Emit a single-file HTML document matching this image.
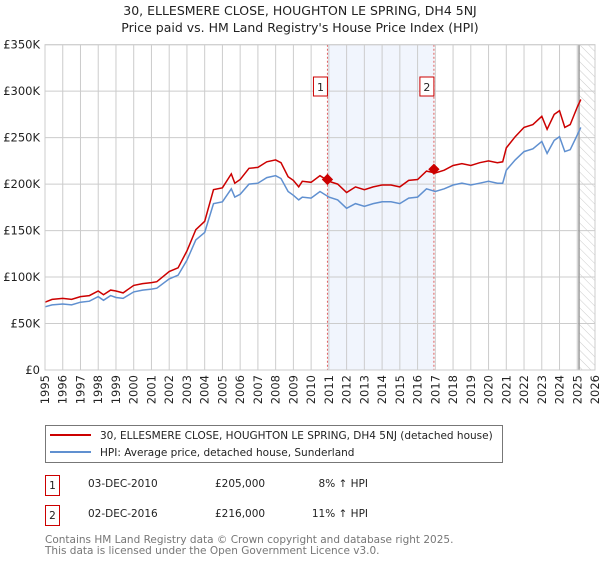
<!DOCTYPE html>
<html><head><meta charset="utf-8"><style>
body{margin:0;background:#fff;font-family:"DejaVu Sans","Liberation Sans",sans-serif;}
svg text{font-family:"DejaVu Sans","Liberation Sans",sans-serif;}
</style></head><body>
<svg id="chart" width="600" height="560" xmlns="http://www.w3.org/2000/svg">
<defs><pattern id="hatch" width="6" height="6" patternUnits="userSpaceOnUse" patternTransform="rotate(-45)"><line x1="0" y1="0" x2="0" y2="6" stroke="#ccc" stroke-width="1"/></pattern></defs>
<text x="300" y="15" text-anchor="middle" font-size="12.5" fill="#222">30, ELLESMERE CLOSE, HOUGHTON LE SPRING, DH4 5NJ</text>
<text x="300" y="32" text-anchor="middle" font-size="12.5" fill="#222">Price paid vs. HM Land Registry's House Price Index (HPI)</text>
<g id="plot"></g>
<g>
<rect x="45.5" y="425.5" width="457" height="37" fill="#fff" stroke="#777"/>
<line x1="50" y1="435" x2="91" y2="435" stroke="#cc0000" stroke-width="2"/>
<text x="100" y="439" font-size="10.5" fill="#222">30, ELLESMERE CLOSE, HOUGHTON LE SPRING, DH4 5NJ (detached house)</text>
<line x1="50" y1="452" x2="91" y2="452" stroke="#6090d0" stroke-width="2"/>
<text x="100" y="456" font-size="10.5" fill="#222">HPI: Average price, detached house, Sunderland</text>
</g>
<g font-size="10.5" fill="#222">
<rect x="45.5" y="475.5" width="14" height="20" fill="#fff" stroke="#cc0000"/><text x="52.5" y="489" text-anchor="middle">1</text>
<text x="88" y="487">03-DEC-2010</text><text x="215" y="487">£205,000</text><text x="368" y="487" text-anchor="end">8% ↑ HPI</text>
<rect x="45.5" y="505.5" width="14" height="20" fill="#fff" stroke="#cc0000"/><text x="52.5" y="519" text-anchor="middle">2</text>
<text x="88" y="517">02-DEC-2016</text><text x="215" y="517">£216,000</text><text x="368" y="517" text-anchor="end">11% ↑ HPI</text>
</g>
<text x="45" y="543" font-size="10.5" fill="#777">Contains HM Land Registry data © Crown copyright and database right 2025.</text>
<text x="45" y="554" font-size="10.5" fill="#777">This data is licensed under the Open Government Licence v3.0.</text>
</svg>
<script>
const years=[1995,1995.4,1996,1996.5,1997,1997.5,1998,1998.3,1998.7,1999,1999.4,2000,2000.5,2001,2001.3,2002,2002.5,2003,2003.5,2004,2004.5,2005,2005.5,2005.7,2006,2006.5,2007,2007.5,2008,2008.3,2008.7,2009,2009.3,2009.5,2010,2010.5,2011,2011.5,2012,2012.5,2013,2013.5,2014,2014.5,2015,2015.5,2016,2016.5,2017,2017.5,2018,2018.5,2019,2019.5,2020,2020.5,2020.8,2021,2021.5,2022,2022.5,2023,2023.3,2023.7,2024,2024.3,2024.6,2025,2025.2];
const hpiValues=[68,70,71,70,73,74,79,75,80,78,77,84,86,87,88,98,102,118,140,148,179,181,195,186,189,200,201,207,209,206,192,188,183,186,185,192,186,183,174,179,176,179,181,181,179,185,186,195,192,195,199,201,199,201,203,201,201,215,226,235,238,246,233,247,251,235,237,253,261];
const priceValues=[73,76,77,76,79,80,85,81,86,85,83,91,93,94,95,106,110,128,151,160,194,196,211,201,205,217,218,224,226,223,208,204,197,203,202,209,203,200,191,197,194,197,199,199,197,204,205,214,212,215,220,222,220,223,225,223,224,239,251,261,264,273,259,275,279,261,264,283,291];
const saleYears=[2010.92,2016.92];
const saleValues=[205,216];
const yTicks=[0,50,100,150,200,250,300,350];
const yTickLabels=["£0","£50K","£100K","£150K","£200K","£250K","£300K","£350K"];
const xTicks=[1995,1996,1997,1998,1999,2000,2001,2002,2003,2004,2005,2006,2007,2008,2009,2010,2011,2012,2013,2014,2015,2016,2017,2018,2019,2020,2021,2022,2023,2024,2025,2026];
const X0=45,X1=595,Y0=370,Y1=44.7;
const xs=y=>X0+(y-1995)/(2026-1995)*(X1-X0);
const ys=v=>Y0-v/350*(Y0-Y1);
const NS="http://www.w3.org/2000/svg";
const g=document.getElementById('plot');
function mk(t,a){const e=document.createElementNS(NS,t);for(const k in a)e.setAttribute(k,a[k]);g.appendChild(e);return e;}
let r=mk('rect',{x:xs(saleYears[0]),y:Y1,width:xs(saleYears[1])-xs(saleYears[0]),height:Y0-Y1,fill:'#eef3fc',opacity:0.8});


let h=mk('rect',{x:xs(2025.1),y:Y1,width:X1-xs(2025.1),height:Y0-Y1,fill:'url(#hatch)'});


xTicks.forEach((t,i)=>{
 const l=mk('line',{x1:xs(t),x2:xs(t),y1:Y1,y2:Y0,stroke:'#ccc','stroke-width':1});
 
 
 const tx=mk('text',{x:0,y:0,'font-size':11.5,fill:'#222','text-anchor':'end',transform:`translate(${xs(t)+4},${Y0+5}) rotate(-90)`});
 tx.textContent=t;
 
 
});
yTicks.forEach((t,i)=>{
 const l=mk('line',{x1:X0,x2:X1,y1:ys(t),y2:ys(t),stroke:'#ccc','stroke-width':1});
 
 
 const tx=mk('text',{x:X0-5,y:ys(t)+4,'font-size':11.5,fill:'#222','text-anchor':'end'});
 tx.textContent=yTickLabels[i];
 
 
});
let v=mk('line',{x1:xs(2025.1),x2:xs(2025.1),y1:Y1,y2:Y0,stroke:'#999','stroke-width':1.5});


saleYears.forEach((s,i)=>{
 const l=mk('line',{x1:xs(s),x2:xs(s),y1:Y1,y2:Y0,stroke:'#e06060','stroke-width':1,'stroke-dasharray':'2,2'});
 
 
 const b=mk('rect',{x:xs(s)-14,y:77,width:14,height:19,fill:'#fff',stroke:'#cc0000'});
 
 
 const t=mk('text',{x:xs(s)-7,y:91,'font-size':11,fill:'#222','text-anchor':'middle'});
 t.textContent=String(i+1);
 
 
});
const pathOf=arr=>arr.map((v,i)=>(i?'L':'M')+xs(years[i]).toFixed(1)+','+ys(v).toFixed(1)).join('');
const hp=mk('path',{d:pathOf(hpiValues),fill:'none',stroke:'#6090d0','stroke-width':1.5});


const pp=mk('path',{d:pathOf(priceValues),fill:'none',stroke:'#cc0000','stroke-width':1.5});


saleYears.forEach((s,i)=>{
 const d=mk('rect',{x:xs(s)-4,y:ys(saleValues[i])-4,width:8,height:8,fill:'#cc0000',transform:`rotate(45 ${xs(s)} ${ys(saleValues[i])})`});
 
 
});
const fr=mk('rect',{x:X0,y:Y1,width:X1-X0,height:Y0-Y1,fill:'none',stroke:'#ccc'});


</script>
</body></html>
